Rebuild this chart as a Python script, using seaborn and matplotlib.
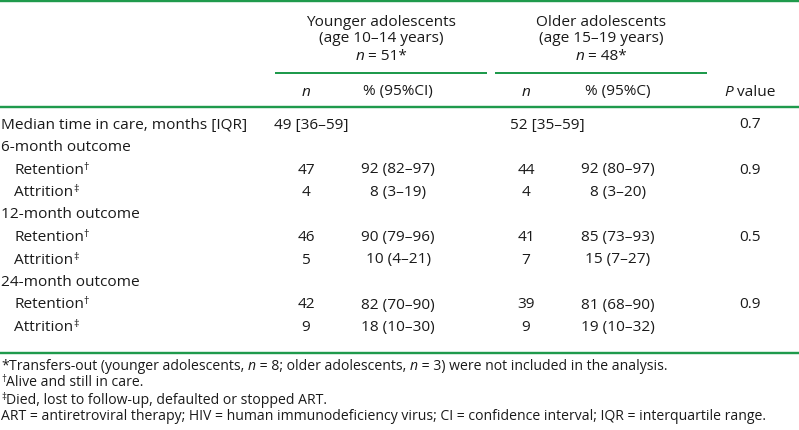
import matplotlib
matplotlib.use('Agg')
import seaborn as sns
import matplotlib.pyplot as plt

# table contents
row_labels = ['Median time in care, months [IQR]', '6-month outcome', 'Retention', 'Attrition',
              '12-month outcome', 'Retention', 'Attrition',
              '24-month outcome', 'Retention', 'Attrition']
row_marks = ['', '', '†', '‡', '', '†', '‡', '', '†', '‡']
young_n = ['', '', '47', '4', '', '46', '5', '', '42', '9']
young_pct = ['', '', '92 (82–97)', '8 (3–19)', '', '90 (79–96)', '10 (4–21)',
             '', '82 (70–90)', '18 (10–30)']
old_n = ['', '', '44', '4', '', '41', '7', '', '39', '9']
old_pct = ['', '', '92 (80–97)', '8 (3–20)', '', '85 (73–93)', '15 (7–27)',
           '', '81 (68–90)', '19 (10–32)']
p_values = ['0.7', '', '0.9', '', '', '0.5', '', '', '0.9', '']
median_young = '49 [36–59]'
median_old = '52 [35–59]'

GREEN = '#1f9a4c'
FS = 11.1

sns.set_theme(style='white')
plt.rcParams['font.family'] = ['Open Sans', 'DejaVu Sans']

fig = plt.figure(figsize=(7.99, 4.30), dpi=100)
ax = fig.add_axes([0, 0, 1, 1])
ax.set_xlim(0, 799)
ax.set_ylim(430, 0)
ax.axis('off')
renderer = fig.canvas.get_renderer()


def rich(x, y, parts, size=FS, ha='left'):
    '''draws a run of text pieces: (text, style) with style n / i / sup'''
    items = []
    for s, st in parts:
        kw = dict(fontsize=size, va='center', ha='left', color='#1a1a1a')
        dy = 0
        if st == 'i':
            kw['fontstyle'] = 'italic'
        if st == 'sup':
            kw['fontsize'] = size * 0.7
            dy = -3
        t = ax.text(0, y + dy, s, **kw)
        w = t.get_window_extent(renderer).width
        items.append((t, w))
    total = sum(w for _, w in items)
    if ha == 'center':
        x0 = x - total / 2
    elif ha == 'right':
        x0 = x - total
    else:
        x0 = x
    for t, w in items:
        t.set_x(x0)
        x0 += w


def hline(x0, x1, y, lw=2.0):
    ax.plot([x0, x1], [y, y], color=GREEN, lw=lw * 0.72, solid_capstyle='butt')


hline(0, 799, 1.2, 2.4)
hline(275, 487, 73)
hline(495, 707, 73)
hline(0, 799, 107, 2.4)
hline(0, 799, 352.5, 2.4)

# group headers
rich(381, 22, [('Younger adolescents', 'n')], ha='center')
rich(381, 39, [('(age 10–14 years)', 'n')], ha='center')
rich(381, 56, [('n', 'i'), (' = 51*', 'n')], ha='center')
rich(601, 22, [('Older adolescents', 'n')], ha='center')
rich(601, 39, [('(age 15–19 years)', 'n')], ha='center')
rich(601, 56, [('n', 'i'), (' = 48*', 'n')], ha='center')

col_n1, col_p1, col_n2, col_p2, col_pv = 306, 398, 526, 618, 750
rich(col_n1, 92, [('n', 'i')], ha='center')
rich(col_p1, 92, [('% (95%CI)', 'n')], ha='center')
rich(col_n2, 92, [('n', 'i')], ha='center')
rich(col_p2, 92, [('% (95%C)', 'n')], ha='center')
rich(col_pv, 92, [('P', 'i'), (' value', 'n')], ha='center')

ys = [125, 147.5, 170, 192.5, 215, 237.5, 260, 282.5, 305, 327.5]
for i, y in enumerate(ys):
    indent = 13 if row_marks[i] else 0
    parts = [(row_labels[i], 'n')]
    if row_marks[i]:
        parts.append((row_marks[i], 'sup'))
    rich(1 + indent, y, parts)
    if young_n[i]:
        rich(col_n1, y, [(young_n[i], 'n')], ha='center')
        rich(col_p1, y, [(young_pct[i], 'n')], ha='center')
        rich(col_n2, y, [(old_n[i], 'n')], ha='center')
        rich(col_p2, y, [(old_pct[i], 'n')], ha='center')
    if p_values[i]:
        rich(col_pv, y, [(p_values[i], 'n')], ha='center')
rich(274, ys[0], [(median_young, 'n')])
rich(510, ys[0], [(median_old, 'n')])

FN = 10.1
rich(1, 366, [('*', 'n'), ('Transfers-out (younger adolescents, ', 'n'), ('n', 'i'),
              (' = 8; older adolescents, ', 'n'), ('n', 'i'),
              (' = 3) were not included in the analysis.', 'n')], size=FN)
rich(1, 383, [('†', 'sup'), ('Alive and still in care.', 'n')], size=FN)
rich(1, 400, [('‡', 'sup'), ('Died, lost to follow-up, defaulted or stopped ART.', 'n')], size=FN)
rich(1, 417, [('ART = antiretroviral therapy; HIV = human immunodeficiency virus; '
               'CI = confidence interval; IQR = interquartile range.', 'n')], size=FN)

fig.savefig('out.png', dpi=100)
